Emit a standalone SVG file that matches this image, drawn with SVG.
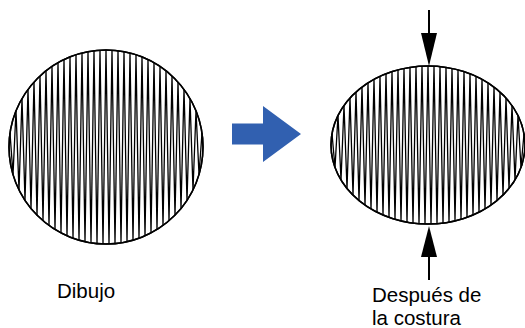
<svg xmlns="http://www.w3.org/2000/svg" xmlns:xlink="http://www.w3.org/1999/xlink" width="525" height="328" viewBox="0 0 525 328">
<style>
.outline{fill:#fff;stroke:#000;stroke-width:1.5}
.stitch{fill:none;stroke:#000;stroke-width:1.3;stroke-linejoin:miter;stroke-miterlimit:1}
.lbl{font-family:"Liberation Sans",Arial,sans-serif;font-size:20.5px;fill:#000}
.pin{stroke:#000;stroke-width:2;fill:none}
.head{fill:#000}
</style>
<defs>
<g id="satin">
<circle cx="0" cy="0" r="97" class="outline" vector-effect="non-scaling-stroke"/>
<polyline class="stitch" vector-effect="non-scaling-stroke" points="-96,-13.89 -93,27.57 -90,-36.18 -87,42.90 -84,-48.51 -81,53.37 -78,-57.66 -75,61.51 -72,-65.00 -69,68.18 -66,-71.08 -63,73.76 -60,-76.22 -57,78.49 -54,-80.58 -51,82.51 -48,-84.29 -45,85.93 -42,-87.44 -39,88.81 -36,-90.07 -33,91.21 -30,-92.24 -27,93.17 -24,-93.98 -21,94.70 -18,-95.32 -15,95.83 -12,-96.25 -9,96.58 -6,-96.81 -3,96.95 0,-97 3,96.95 6,-96.81 9,96.58 12,-96.25 15,95.83 18,-95.32 21,94.70 24,-93.98 27,93.17 30,-92.24 33,91.21 36,-90.07 39,88.81 42,-87.44 45,85.93 48,-84.29 51,82.51 54,-80.58 57,78.49 60,-76.22 63,73.76 66,-71.08 69,68.18 72,-65.00 75,61.51 78,-57.66 81,53.37 84,-48.51 87,42.90 90,-36.18 93,27.57 96,-13.89"/>
<circle cx="0" cy="0" r="97" fill="none" stroke="#000" stroke-width="1.5" vector-effect="non-scaling-stroke"/>
</g>
</defs>
<g id="dibujo">
<use xlink:href="#satin" transform="translate(106,147)"/>
<text class="lbl" x="57" y="298">Dibujo</text>
</g>
<g id="arrow-blue">
<polygon points="232,123.5 263,123.5 263,106 301,134 263,162 263,144.5 232,144.5" fill="#3160B0"/>
</g>
<g id="despues">
<use xlink:href="#satin" transform="translate(428,145) scale(1,0.8144)"/>
<text class="lbl" x="372" y="302">Después de</text>
<text class="lbl" x="372" y="325">la costura</text>
</g>
<g id="connectors">
<line class="pin" x1="429" y1="10" x2="429" y2="40"/>
<polygon class="head" points="421,33 437,33 429,66"/>
<line class="pin" x1="429" y1="250" x2="429" y2="280"/>
<polygon class="head" points="421,257 437,257 429,226"/>
</g>
</svg>
